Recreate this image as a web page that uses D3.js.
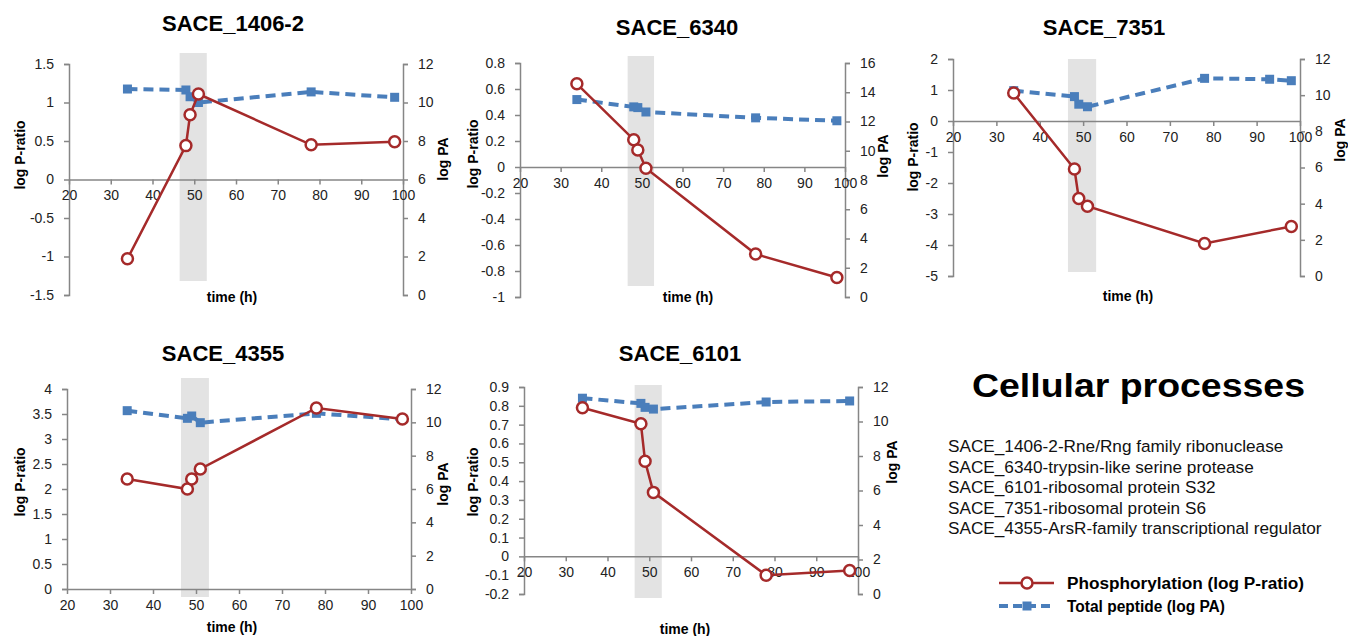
<!DOCTYPE html>
<html>
<head>
<meta charset="utf-8">
<script src="https://cdn.jsdelivr.net/npm/d3@7"></script>
<style>
  body { margin: 0; background: #fff; }
  svg { display: block; font-family: 'Liberation Sans', Arial, sans-serif; }
  .axis path, .axis line { stroke: #868686; stroke-width: 1.5; }
  .axis text { fill: #222; font-size: 14px; font-family: 'Liberation Sans', Arial, sans-serif; }
</style>
</head>
<body>
<svg id="canvas"></svg>
<script>
// Canvas size
var canvasWidth = 1348;
var canvasHeight = 636;

// Sampling times (h)
var timeHours = [34, 48, 49, 51, 78, 98];
var timeHours7351Pa = [34, 48, 49, 51, 78, 93, 98];

// Shaded time window (h)
var bandHours = [46.5, 53];

// Phosphorylation (log P-ratio) and total peptide (log PA) per protein
var pRatio1406 = [-1.03, 0.44, 0.84, 1.11, 0.45, 0.49];
var pa1406 = [10.7, 10.65, 10.3, 10.0, 10.55, 10.27];

var pRatio6340 = [0.64, 0.21, 0.13, -0.01, -0.67, -0.85];
var pa6340 = [13.5, 13.0, 12.95, 12.65, 12.25, 12.05];

var pRatio7351 = [0.9, -1.55, -2.5, -2.75, -3.95, -3.4];
var pa7351 = [10.25, 9.92, 9.5, 9.36, 10.93, 10.88, 10.8];

var pRatio4355 = [2.2, 2.0, 2.2, 2.4, 3.62, 3.4];
var pa4355 = [10.7, 10.24, 10.38, 9.98, 10.54, 10.18];

var pRatio6101 = [0.79, 0.705, 0.505, 0.34, -0.1, -0.075];
var pa6101 = [11.35, 11.05, 10.82, 10.72, 11.13, 11.19];

// Axis ranges
var timeTicks = [20, 30, 40, 50, 60, 70, 80, 90, 100];
var panelTitles = ['SACE_1406-2', 'SACE_6340', 'SACE_7351', 'SACE_4355', 'SACE_6101'];
var pRatioDomains = [[-1.5, 1.5], [-1, 0.8], [-5, 2], [0, 4], [-0.2, 0.9]];
var pRatioSteps = [0.5, 0.2, 1, 0.5, 0.1];
var paDomains = [[0, 12], [0, 16], [0, 12], [0, 12], [0, 12]];

// Side text
var groupTitle = 'Cellular processes';
var proteinNotes = [
  'SACE_1406-2-Rne/Rng family ribonuclease',
  'SACE_6340-trypsin-like serine protease',
  'SACE_6101-ribosomal protein S32',
  'SACE_7351-ribosomal protein S6',
  'SACE_4355-ArsR-family transcriptional regulator'
];
var legendLabels = ['Phosphorylation (log P-ratio)', 'Total peptide (log PA)'];

// Colors
var redColor = '#a52a2a';
var blueColor = '#4a7ebb';
var bandColor = '#e3e3e3';

// Panel layout (plot boxes in px)
var layouts = [
  { left: 69, right: 403, top: 64, bottom: 295, bandTop: 53, bandBottom: 281, titleX: 233, titleY: 31, yLabelX: 20, yLabelY: 155, paLabelX: 443, paLabelY: 159, timeX: 232, timeY: 302 },
  { left: 520, right: 845, top: 63, bottom: 297, bandTop: 56, bandBottom: 286, titleX: 677, titleY: 35, yLabelX: 473, yLabelY: 154, paLabelX: 883, paLabelY: 156, timeX: 688, timeY: 302 },
  { left: 953, right: 1300, top: 59, bottom: 276, bandTop: 59, bandBottom: 272, titleX: 1104, titleY: 35, yLabelX: 913, yLabelY: 157, paLabelX: 1340, paLabelY: 140, timeX: 1128, timeY: 301 },
  { left: 67, right: 411, top: 389, bottom: 589, bandTop: 378, bandBottom: 597, titleX: 223, titleY: 361, yLabelX: 20, yLabelY: 482, paLabelX: 443, paLabelY: 484, timeX: 232, timeY: 632 },
  { left: 524, right: 858, top: 387, bottom: 594, bandTop: 385, bandBottom: 598, titleX: 680, titleY: 361, yLabelX: 473, yLabelY: 482, paLabelX: 892, paLabelY: 462, timeX: 685, timeY: 634 }
];

var panels = [
  { pRatio: pRatio1406, pa: pa1406, paTimes: timeHours },
  { pRatio: pRatio6340, pa: pa6340, paTimes: timeHours },
  { pRatio: pRatio7351, pa: pa7351, paTimes: timeHours7351Pa },
  { pRatio: pRatio4355, pa: pa4355, paTimes: timeHours },
  { pRatio: pRatio6101, pa: pa6101, paTimes: timeHours }
];

var svg = d3.select('#canvas')
  .attr('width', canvasWidth)
  .attr('height', canvasHeight);

function numberLabel(v) {
  return String(+v.toFixed(2));
}

/**
 * Draws one dual-axis panel.
 */
function drawPanel(panel, i) {
  var lay = layouts[i];
  var g = svg.append('g').attr('class', 'panel');

  var timeScale = d3.scaleLinear()
    .domain([20, 100])
    .range([lay.left, lay.right]);

  var ratioScale = d3.scaleLinear()
    .domain(pRatioDomains[i])
    .range([lay.bottom, lay.top]);

  var paScale = d3.scaleLinear()
    .domain(paDomains[i])
    .range([lay.bottom, lay.top]);

  // Shaded window
  g.append('rect')
    .attr('x', timeScale(bandHours[0]))
    .attr('width', timeScale(bandHours[1]) - timeScale(bandHours[0]))
    .attr('y', lay.bandTop)
    .attr('height', lay.bandBottom - lay.bandTop)
    .attr('fill', bandColor);

  // Axes
  var dom = pRatioDomains[i];
  var step = pRatioSteps[i];
  var ratioTicks = d3.range(0, Math.round((dom[1] - dom[0]) / step) + 1).map(function(k) {
    return +(dom[0] + k * step).toFixed(2);
  });

  g.append('g')
    .attr('class', 'axis')
    .attr('transform', 'translate(' + lay.left + ',0)')
    .call(d3.axisLeft(ratioScale).tickValues(ratioTicks).tickSize(5).tickSizeOuter(5).tickPadding(10).tickFormat(numberLabel));

  g.append('g')
    .attr('class', 'axis')
    .attr('transform', 'translate(' + lay.right + ',0)')
    .call(d3.axisRight(paScale).tickValues(d3.range(paDomains[i][0], paDomains[i][1] + 1, 2)).tickSize(5).tickSizeOuter(5).tickPadding(10).tickFormat(numberLabel));

  g.append('g')
    .attr('class', 'axis')
    .attr('transform', 'translate(0,' + ratioScale(0) + ')')
    .call(d3.axisBottom(timeScale).tickValues(timeTicks).tickSize(5).tickSizeOuter(0).tickPadding(6).tickFormat(numberLabel));

  // Total peptide line
  var paPoints = panel.pa.map(function(v, k) {
    return { t: panel.paTimes[k], v: v };
  });

  var paLine = d3.line()
    .x(function(d) { return timeScale(d.t); })
    .y(function(d) { return paScale(d.v); });

  g.append('path')
    .datum(paPoints)
    .attr('d', paLine)
    .attr('fill', 'none')
    .attr('stroke', blueColor)
    .attr('stroke-width', 4)
    .attr('stroke-dasharray', '10,6');

  g.selectAll('.pa-dot')
    .data(paPoints)
    .enter()
    .append('rect')
    .attr('class', 'pa-dot')
    .attr('x', function(d) { return timeScale(d.t) - 4.5; })
    .attr('y', function(d) { return paScale(d.v) - 4.5; })
    .attr('width', 9)
    .attr('height', 9)
    .attr('fill', blueColor);

  // Phosphorylation line
  var ratioPoints = panel.pRatio.map(function(v, k) {
    return { t: timeHours[k], v: v };
  });

  var ratioLine = d3.line()
    .x(function(d) { return timeScale(d.t); })
    .y(function(d) { return ratioScale(d.v); });

  g.append('path')
    .datum(ratioPoints)
    .attr('d', ratioLine)
    .attr('fill', 'none')
    .attr('stroke', redColor)
    .attr('stroke-width', 2.5);

  g.selectAll('.ratio-dot')
    .data(ratioPoints)
    .enter()
    .append('circle')
    .attr('class', 'ratio-dot')
    .attr('cx', function(d) { return timeScale(d.t); })
    .attr('cy', function(d) { return ratioScale(d.v); })
    .attr('r', 5.5)
    .attr('fill', '#fff')
    .attr('stroke', redColor)
    .attr('stroke-width', 2.5);

  // Titles
  g.append('text')
    .attr('x', lay.titleX)
    .attr('y', lay.titleY)
    .attr('text-anchor', 'middle')
    .attr('font-size', 22)
    .attr('font-weight', 'bold')
    .text(panelTitles[i]);

  g.append('text')
    .attr('transform', 'translate(' + lay.yLabelX + ',' + lay.yLabelY + ') rotate(-90)')
    .attr('text-anchor', 'middle')
    .attr('dy', '0.35em')
    .attr('font-size', 14)
    .attr('font-weight', 'bold')
    .text('log P-ratio');

  g.append('text')
    .attr('transform', 'translate(' + lay.paLabelX + ',' + lay.paLabelY + ') rotate(-90)')
    .attr('text-anchor', 'middle')
    .attr('dy', '0.35em')
    .attr('font-size', 14)
    .attr('font-weight', 'bold')
    .text('log PA');

  g.append('text')
    .attr('x', lay.timeX)
    .attr('y', lay.timeY)
    .attr('text-anchor', 'middle')
    .attr('font-size', 14)
    .attr('font-weight', 'bold')
    .text('time (h)');
}

panels.forEach(drawPanel);

// Group title and protein notes
svg.append('text')
  .attr('x', 972)
  .attr('y', 397)
  .attr('font-size', 34)
  .attr('font-weight', 'bold')
  .attr('textLength', 333)
  .attr('lengthAdjust', 'spacingAndGlyphs')
  .text(groupTitle);

svg.selectAll('.note')
  .data(proteinNotes)
  .enter()
  .append('text')
  .attr('class', 'note')
  .attr('x', 948)
  .attr('y', function(d, k) { return 452 + k * 20.5; })
  .attr('font-size', 17.2)
  .attr('fill', '#111')
  .text(function(d) { return d; });

// Legend
var legend = svg.append('g').attr('class', 'legend');

legend.append('line')
  .attr('x1', 999).attr('x2', 1054)
  .attr('y1', 583).attr('y2', 583)
  .attr('stroke', redColor)
  .attr('stroke-width', 2.5);

legend.append('circle')
  .attr('cx', 1027).attr('cy', 583).attr('r', 5.5)
  .attr('fill', '#fff')
  .attr('stroke', redColor)
  .attr('stroke-width', 2.5);

legend.append('line')
  .attr('x1', 999).attr('x2', 1054)
  .attr('y1', 606).attr('y2', 606)
  .attr('stroke', blueColor)
  .attr('stroke-width', 4)
  .attr('stroke-dasharray', '9,5');

legend.append('rect')
  .attr('x', 1022.5).attr('y', 601.5)
  .attr('width', 9).attr('height', 9)
  .attr('fill', blueColor);

legend.selectAll('.legend-label')
  .data(legendLabels)
  .enter()
  .append('text')
  .attr('class', 'legend-label')
  .attr('x', 1067)
  .attr('y', function(d, k) { return 589 + k * 23; })
  .attr('font-size', 16)
  .attr('font-weight', 'bold')
  .attr('textLength', function(d, k) { return k === 0 ? 237 : 158; })
  .attr('lengthAdjust', 'spacingAndGlyphs')
  .text(function(d) { return d; });
</script>
</body>
</html>
